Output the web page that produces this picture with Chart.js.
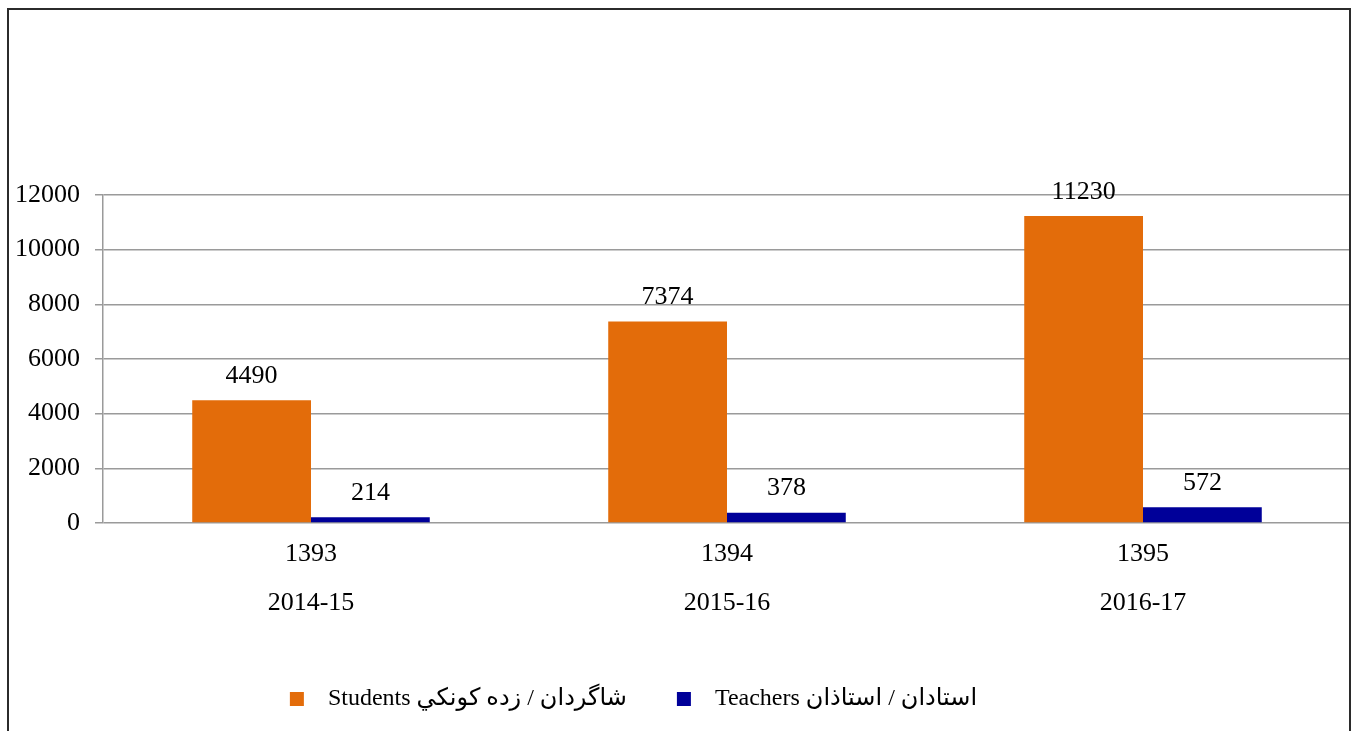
<!DOCTYPE html>
<html>
<head>
<meta charset="utf-8">
<script src="https://cdn.jsdelivr.net/npm/chart.js@4/dist/chart.umd.min.js"></script>
<style>
  html, body { margin: 0; padding: 0; background: #fff; overflow: hidden; }
  #wrap { position: absolute; left: 0; top: 0; width: 1357px; height: 731px; }
  #frame {
    position: absolute; left: 7px; top: 8px; width: 1340px; height: 800px;
    border: 2px solid #2b2b2b; pointer-events: none;
  }
</style>
</head>
<body>
<div id="wrap">
  <canvas id="chart" width="1357" height="731"></canvas>
  <div id="frame"></div>
</div>
<script>
// data
var solarYears = ['1393', '1394', '1395'];
var schoolYears = ['2014-15', '2015-16', '2016-17'];
var students = [4490, 7374, 11230];
var teachers = [214, 378, 572];
var yTicks = [0, 2000, 4000, 6000, 8000, 10000, 12000];

var labels = solarYears.map(function (y, i) { return [y, schoolYears[i]]; });
var serif = "'Liberation Serif', 'Times New Roman', 'DejaVu Sans', serif";

// write the value above each bar
var valueLabels = {
  id: 'valueLabels',
  afterLayout: function (chart) {
    // legend sits a bit left of centre in the original
    chart.legend.left -= 42;
    chart.legend.right -= 42;
  },
  afterDatasetsDraw: function (chart) {
    var ctx = chart.ctx;
    ctx.save();
    ctx.font = '26px ' + serif;
    ctx.fillStyle = '#000';
    ctx.textAlign = 'center';
    ctx.textBaseline = 'middle';
    chart.data.datasets.forEach(function (ds, i) {
      chart.getDatasetMeta(i).data.forEach(function (bar, j) {
        ctx.fillText(String(ds.data[j]), bar.x, bar.y - 24);
      });
    });
    ctx.restore();
  }
};

document.addEventListener('DOMContentLoaded', function () {
  new Chart(document.getElementById('chart'), {
    type: 'bar',
    data: {
      labels: labels,
      datasets: [{
        label: '  Students شاگردان / زده کونکي',
        data: students,
        backgroundColor: '#E36C0A'
      }, {
        label: '  Teachers استادان / استاذان',
        data: teachers,
        backgroundColor: '#000099'
      }]
    },
    options: {
      responsive: false,
      animation: false,
      layout: { padding: { top: 195, right: 6, bottom: 10, left: 0 } },
      datasets: { bar: { barPercentage: 1, categoryPercentage: 0.571 } },
      plugins: {
        legend: {
          position: 'bottom',
          labels: {
            boxWidth: 14,
            boxHeight: 14,
            padding: 50,
            color: '#000',
            font: { family: serif, size: 24 }
          }
        },
        tooltip: { enabled: false }
      },
      scales: {
        x: {
          grid: { display: false, drawTicks: false },
          border: { display: false },
          ticks: {
            color: '#000',
            padding: 7,
            font: { family: serif, size: 26, lineHeight: 1.88 }
          },
          afterFit: function (s) { s.height = 114; }
        },
        y: {
          min: 0,
          max: 12000,
          afterBuildTicks: function (s) {
            s.ticks = yTicks.map(function (v) { return { value: v }; });
          },
          grid: { color: '#9a9a9a', lineWidth: 1.5, tickLength: 8 },
          border: { color: '#9a9a9a', width: 1.5 },
          ticks: {
            color: '#000',
            padding: 15,
            font: { family: serif, size: 26 },
            callback: function (v) { return String(v); }
          },
          afterFit: function (s) { s.width = 103; }
        }
      }
    },
    plugins: [valueLabels]
  });
});
</script>
</body>
</html>
